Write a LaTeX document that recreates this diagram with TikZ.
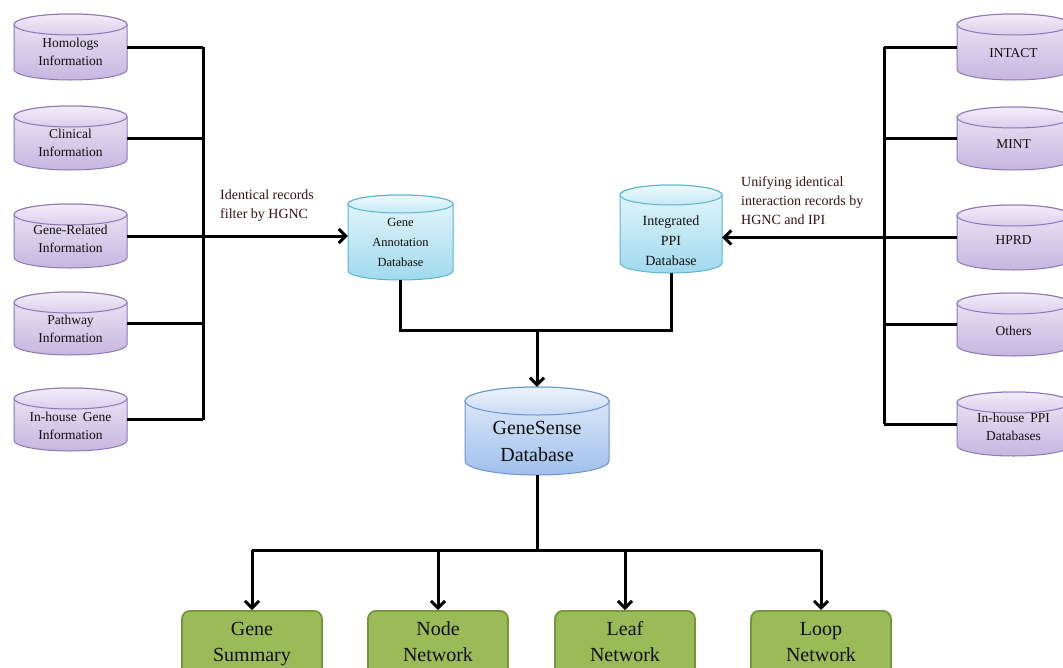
\documentclass[tikz,border=0pt]{standalone}
\usepackage{fontspec}
\setmainfont{Liberation Serif}
\usetikzlibrary{arrows.meta,calc}
\definecolor{ppedge}{RGB}{140,120,185}
\definecolor{ppbt}{RGB}{238,232,246}
\definecolor{ppbb}{RGB}{198,182,224}
\definecolor{pptt}{RGB}{243,238,249}
\definecolor{pptb}{RGB}{218,206,236}
\definecolor{cyedge}{RGB}{90,179,210}
\definecolor{cybt}{RGB}{232,247,252}
\definecolor{cybb}{RGB}{160,218,238}
\definecolor{cytt}{RGB}{238,249,253}
\definecolor{cytb}{RGB}{196,233,245}
\definecolor{gsedge}{RGB}{105,148,212}
\definecolor{gsbt}{RGB}{228,237,250}
\definecolor{gsbb}{RGB}{160,191,236}
\definecolor{gstt}{RGB}{237,243,252}
\definecolor{gstb}{RGB}{200,218,244}
\definecolor{grfill}{RGB}{155,187,89}
\definecolor{gredge}{RGB}{118,150,60}
\definecolor{lblcol}{RGB}{55,18,18}
\definecolor{txtcol}{RGB}{15,15,15}
\newcommand\dbcyl[9]{%
 \pgfmathsetmacro\cylR{#2+#4}%
 \pgfmathsetmacro\cylB{#3+#5}%
 \pgfmathsetmacro\cylrx{#4/2}%
 \pgfmathsetmacro\cylcx{#2+#4/2}%
 \pgfmathsetmacro\cylcy{#3+#5/2}%
 \pgfmathsetmacro\cylty{#3+#6}%
 \pgfmathsetmacro\cylby{\cylB-#6}%
 \path[#7body] (#2,\cylty) -- (#2,\cylby) arc[start angle=180,end angle=360,x radius=\cylrx pt,y radius=#6 pt] -- (\cylR,\cylty) arc[start angle=0,end angle=180,x radius=\cylrx pt,y radius=#6 pt] -- cycle;
 \path[#7top] (\cylcx,\cylty) ellipse[x radius=\cylrx pt,y radius=#6 pt];
 \node[minimum width=#4pt,minimum height=#5pt,inner sep=0pt] (#1) at (\cylcx,\cylcy) {};
 \node[#7text] (#1-t) at ($(#1.center)+(0,#9)$) {#8};
}
\begin{document}
\begin{tikzpicture}[x=1pt,y=-1pt,
 conn/.style={line width=3pt,black},
 arr/.style={conn,-{Straight Barb[length=7pt,width=14pt]}},
 ppbody/.style={draw=ppedge,line width=1pt,top color=ppbt,bottom color=ppbb},
 pptop/.style={draw=ppedge,line width=1pt,top color=pptt,bottom color=pptb},
 pptext/.style={font=\fontsize{13.5}{18}\selectfont,align=center,text=txtcol,inner sep=0pt},
 cybody/.style={draw=cyedge,line width=1pt,top color=cybt,bottom color=cybb},
 cytop/.style={draw=cyedge,line width=1pt,top color=cytt,bottom color=cytb},
 cytext/.style={font=\fontsize{12.5}{20}\selectfont,align=center,text=txtcol,inner sep=0pt},
 czbody/.style={cybody},
 cztop/.style={cytop},
 cztext/.style={font=\fontsize{14}{20}\selectfont,align=center,text=txtcol,inner sep=0pt},
 gsbody/.style={draw=gsedge,line width=1pt,top color=gsbt,bottom color=gsbb},
 gstop/.style={draw=gsedge,line width=1pt,top color=gstt,bottom color=gstb},
 gstext/.style={font=\fontsize{20}{27}\selectfont,align=center,text=txtcol,inner sep=0pt},
 gbox/.style={draw=gredge,line width=1.8pt,fill=grfill,rounded corners=8pt,minimum width=140pt,minimum height=66pt,anchor=north,align=center,font=\fontsize{20}{26}\selectfont,text=txtcol},
 lbl/.style={font=\fontsize{14}{19}\selectfont,align=left,text=lblcol,anchor=west,inner sep=0pt}
]
\clip (0,0) rectangle (1063,667);
\fill[white] (0,0) rectangle (1063,667);
% left sources
\dbcyl{ho}{14}{14}{113}{66}{10.5}{pp}{Homologs\\Information}{5}
\dbcyl{cl}{14}{106}{113}{64}{10.5}{pp}{Clinical\\Information}{5}
\dbcyl{gr}{14}{204}{113}{64}{10.5}{pp}{Gene-Related\\Information}{3}
\dbcyl{pw}{14}{292}{113}{63}{10.5}{pp}{Pathway\\Information}{5}
\dbcyl{ih}{14}{388}{113}{63}{10.5}{pp}{In-house\hspace{6pt}Gene\\Information}{6}
% right sources
\dbcyl{in}{957}{14}{113}{66}{10.5}{pp}{INTACT}{6}
\dbcyl{mi}{957}{107}{113}{63}{10.5}{pp}{MINT}{6}
\dbcyl{hp}{957}{205}{113}{65}{10.5}{pp}{HPRD}{3}
\dbcyl{ot}{957}{293}{113}{63}{10.5}{pp}{Others}{6}
\dbcyl{ipp}{957}{392}{113}{64}{10.5}{pp}{In-house\hspace{6pt}PPI\\Databases}{3}
% integrated databases
\dbcyl{ga}{348}{195}{105}{85}{9}{cy}{Gene\\Annotation\\Database}{4.5}
\dbcyl{ip}{620}{185}{102}{88}{10}{cz}{Integrated\\PPI\\Database}{12}
\dbcyl{gs}{465}{387}{144}{88}{14}{gs}{GeneSense\\Database}{10}
% output boxes
\node[gbox] (b1) at (252,610) {Gene\\Summary};
\node[gbox] (b2) at (438,610) {Node\\Network\vphantom{y}};
\node[gbox] (b3) at (625,610) {Leaf\\Network\vphantom{y}};
\node[gbox] (b4) at (821,610) {Loop\\Network\vphantom{y}};
% labels
\node[lbl] (l1) at (220,206) {Identical records\\filter by HGNC};
\node[lbl] (l2) at (741,201) {Unifying identical\\interaction records by\\HGNC and IPI};
% buses
\coordinate (lb) at (203,0);
\coordinate (rb) at (884,0);
\coordinate (jn) at (537,330);
\coordinate (bb) at (537,550);
\foreach \n in {ho,cl,pw,ih} \draw[conn] (\n.east) -- (\n.east -| lb);
\draw[conn] (ho.east -| lb) -- (ih.east -| lb);
\draw[arr] (gr.east) -- (gr.east -| ga.west);
\foreach \n in {in,mi,ot,ipp} \draw[conn] (\n.west) -- (\n.west -| rb);
\draw[conn] (in.west -| rb) -- (ipp.west -| rb);
\draw[arr] (hp.west) -- (hp.west -| ip.east);
\draw[conn] (ga.south) |- (jn) -| (ip.south);
\draw[arr] (jn) -- (jn |- gs.north);
\draw[conn] (gs.south) -- (gs.south |- bb);
\draw[conn] (b1.north |- bb) -- (b4.north |- bb);
\foreach \n in {b1,b2,b3,b4} \draw[arr] (\n.north |- bb) -- (\n.north);
\end{tikzpicture}
\end{document}
